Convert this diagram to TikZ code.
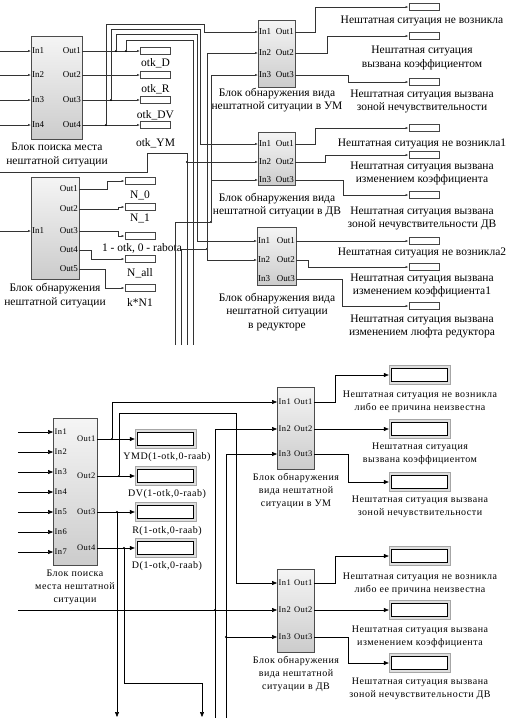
\documentclass[tikz,border=0pt]{standalone}
\usepackage{fontspec}
\setmainfont{Liberation Serif}
\newfontfamily\spacedfont[LetterSpace=5]{Liberation Serif}
\usetikzlibrary{arrows.meta,positioning}

\tikzset{
  blk/.style={draw=gray!60!black, top color=gray!8, bottom color=gray!40, inner sep=0pt},
  dsp/.style={draw=gray!55!black, line width=1pt, fill=white, minimum width=30pt, minimum height=7pt, inner sep=0pt},
  bdsp/.style={draw=gray!70, fill=gray!25, minimum width=61pt, minimum height=19pt, inner sep=0pt,
    path picture={\draw[black, fill=white] ([shift={(2.5pt,-2.5pt)}]path picture bounding box.north west)
      rectangle ([shift={(-3pt,3pt)}]path picture bounding box.south east);}},
  lbl/.style={font=\fontsize{11.5}{13.5}\selectfont, align=center, inner sep=0pt},
  blbl/.style={font=\spacedfont\fontsize{10}{13}\selectfont, align=center, inner sep=0pt},
  prt/.style={font=\fontsize{9}{10}\selectfont, inner sep=1pt},
  bprt/.style={font=\spacedfont\fontsize{8.5}{10}\selectfont, inner sep=1.5pt},
  wire/.style={draw=gray!40!black, line width=0.5pt},
  bwire/.style={draw=black, line width=0.6pt},
  arr/.style={-{Latex[length=3pt,width=2.2pt]}},
  barr/.style={-{Triangle[length=5pt,width=4pt]}},
  jn/.style={circle, fill=black, inner sep=0pt, minimum size=2.2pt}
}

\begin{document}
\begin{tikzpicture}[x=1pt,y=-1pt]
\useasboundingbox (0,0) rectangle (512,718);

% ---------- upper model ----------
\node[blk, minimum width=51pt, minimum height=103pt] (b1) at (56.5,87.5) {};
\foreach \i/\y in {1/51,2/75,3/100,4/125}{
  \coordinate (b1i\i) at (31,\y);
  \coordinate (b1o\i) at (82,\y);
  \coordinate (s\i) at (0,\y);
  \node[prt, anchor=west] (b1n\i) at (b1i\i) {In\i};
  \node[prt, anchor=east] (b1m\i) at (b1o\i) {Out\i};
  \draw[wire, arr] (s\i) -- (b1i\i);
}
\node[lbl] (t0) at (57,155) {Блок поиска места\\нештатной ситуации};

\node[dsp] (d1) at (155.5,51) {};
\node[dsp] (d2) at (155.5,75) {};
\node[dsp] (d3) at (155.5,100) {};
\node[dsp] (d4) at (155.5,125) {};
\node[lbl] (t1) at (155.5,63) {otk\_D};
\node[lbl] (t2) at (155.5,89) {otk\_R};
\node[lbl] (t3) at (155.5,115) {otk\_DV};
\node[lbl] (t4) at (155.5,143) {otk\_YM};
\foreach \i in {1,...,4} \draw[wire, arr] (b1o\i) -- (d\i);

\node[blk, minimum width=48pt, minimum height=102pt] (b2) at (55,228) {};
\coordinate (b2i) at (31,231);
\coordinate (s5) at (0,231);
\node[prt, anchor=west] (b2n) at (b2i) {In1};
\draw[wire, arr] (s5) -- (b2i);
\foreach \i/\y in {1/189,2/209,3/231,4/250,5/269}{
  \coordinate (b2o\i) at (79,\y);
  \node[prt, anchor=east] (b2m\i) at (b2o\i) {Out\i};
}
\node[lbl] (t5) at (55,295.5) {Блок обнаружения\\нештатной ситуации};

\node[dsp] (n1) at (140,181) {};
\node[dsp] (n2) at (140,207) {};
\node[dsp] (n3) at (140,236) {};
\node[dsp] (n4) at (140,259) {};
\node[dsp] (n5) at (140,288) {};
\node[lbl] (t6) at (140,195) {N\_0};
\node[lbl] (t7) at (140,218) {N\_1};
\node[lbl] (t8) at (142,248) {1 - otk, 0 - rabota};
\node[lbl] (t9) at (140,273) {N\_all};
\node[lbl] (t10) at (140,303) {k*N1};
\draw[wire, arr] (b2o1) -- ++(28,0) |- (n1);
\draw[wire, arr] (b2o2) -- ++(39,0) |- (n2);
\draw[wire, arr] (b2o3) -- ++(39,0) |- (n3);
\draw[wire, arr] (b2o4) -- ++(12,0) |- (n4);
\draw[wire, arr] (b2o5) -- ++(26,0) |- (n5);

% detection blocks
\node[blk, minimum width=37pt, minimum height=67pt] (bu) at (276.5,53.5) {};
\node[blk, minimum width=37pt, minimum height=53pt] (bd) at (276.5,158.5) {};
\node[blk, minimum width=39pt, minimum height=58pt] (br) at (276.5,256) {};
\foreach \i/\y in {1/32,2/53,3/75}{
  \coordinate (ui\i) at (258,\y); \coordinate (uo\i) at (295,\y);
  \node[prt, anchor=west] (un\i) at (ui\i) {In\i};
  \node[prt, anchor=east] (um\i) at (uo\i) {Out\i};
}
\foreach \i/\y in {1/144,2/162,3/180}{
  \coordinate (di\i) at (258,\y); \coordinate (do\i) at (295,\y);
  \node[prt, anchor=west] (dn\i) at (di\i) {In\i};
  \node[prt, anchor=east] (dm\i) at (do\i) {Out\i};
}
\foreach \i/\y in {1/241,2/260,3/279}{
  \coordinate (ri\i) at (257,\y); \coordinate (ro\i) at (296,\y);
  \node[prt, anchor=west] (rn\i) at (ri\i) {In\i};
  \node[prt, anchor=east] (rm\i) at (ro\i) {Out\i};
}
\node[lbl] (t20) at (277,100) {Блок обнаружения вида\\нештатной ситуации в УМ};
\node[lbl] (t21) at (277,205) {Блок обнаружения вида\\нештатной ситуации в ДВ};
\node[lbl] (t22) at (277,312) {Блок обнаружения вида\\нештатной ситуации\\в редукторе};

\node[dsp] (r1) at (424,7) {};
\node[dsp] (r2) at (424,36) {};
\node[dsp] (r3) at (424,82) {};
\node[dsp] (r4) at (424,128) {};
\node[dsp] (r5) at (424,155) {};
\node[dsp] (r6) at (424,195) {};
\node[dsp] (r7) at (424,241) {};
\node[dsp] (r8) at (424,267) {};
\node[dsp] (r9) at (424,306) {};
\node[lbl] (t11) at (422,21) {Нештатная ситуация не возникла};
\node[lbl] (t12) at (422,58) {Нештатная ситуация\\вызвана коэффициентом};
\node[lbl] (t13) at (422,101.5) {Нештатная ситуация вызвана\\зоной нечувствительности};
\node[lbl] (t14) at (422,144) {Нештатная ситуация не возникла1};
\node[lbl] (t15) at (422,173.5) {Нештатная ситуация вызвана\\изменением коэффициента};
\node[lbl] (t16) at (422,218.5) {Нештатная ситуация вызвана\\зоной нечувствительности ДВ};
\node[lbl] (t17) at (422,253) {Нештатная ситуация не возникла2};
\node[lbl] (t18) at (422,285.5) {Нештатная ситуация вызвана\\изменением коэффициента1};
\node[lbl] (t19) at (422,326.5) {Нештатная ситуация вызвана\\изменением люфта редуктора};

\draw[wire, arr] (uo1) -- ++(20,0) |- (r1);
\draw[wire, arr] (uo2) -- ++(32,0) |- (r2);
\draw[wire, arr] (uo3) -- ++(53,0) |- (r3);
\draw[wire, arr] (do1) -- ++(20,0) |- (r4);
\draw[wire, arr] (do2) -- ++(30,0) |- (r5);
\draw[wire, arr] (do3) -- ++(48,0) |- (r6);
\draw[wire, arr] (ro1) -- (r7);
\draw[wire, arr] (ro2) -- ++(12,0) |- (r8);
\draw[wire, arr] (ro3) -- ++(46,0) |- (r9);

% wire bundle
\coordinate (e1) at (175,345);
\coordinate (e2) at (181,345);
\coordinate (e3) at (187,345);
\coordinate (e4) at (193,345);
\coordinate (s6) at (0,172);
\node[jn] (j1) at (106,125) {};
\node[jn] (j2) at (111,100) {};
\node[jn] (j3) at (116,51) {};
\node[jn] (j4) at (126,51) {};
\node[jn] (j5) at (187,162) {};
\node[jn] (j6) at (207,249) {};
\node[jn] (j7) at (211,222) {};
\draw[wire, arr] (j1) |- (204,24) |- (ui1);
\draw[wire, arr] (j2) |- (200,29) |- (di1);
\draw[wire, arr] (j3) |- (197,34) |- (ri1);
\draw[wire] (j4) |- (193,40) -- (e4);
\draw[wire] (s6) -| (147,153) -| (e3);
\draw[wire, arr] (j5) -- (di2);
\draw[wire] (e2) |- (j6);
\draw[wire, arr] (j6) |- (ui2);
\draw[wire, arr] (j6) |- (ri2);
\draw[wire] (e1) |- (j7);
\draw[wire, arr] (j7) |- (ui3);
\draw[wire, arr] (j7) |- (di3);

% ---------- lower model ----------
\node[blk, minimum width=44pt, minimum height=147pt] (b3) at (75,491.5) {};
\foreach \i/\y in {1/432,2/452,3/472,4/492,5/512,6/532,7/552}{
  \coordinate (b3i\i) at (53,\y);
  \coordinate (q\i) at (18,\y);
  \node[bprt, anchor=west] (b3n\i) at (b3i\i) {In\i};
  \draw[bwire, barr] (q\i) -- (b3i\i);
}
\foreach \i/\y in {1/439,2/476,3/512,4/548}{
  \coordinate (b3o\i) at (97,\y);
  \node[bprt, anchor=east] (b3m\i) at (b3o\i) {Out\i};
}
\node[blbl] (t30) at (75,587) {Блок поиска\\места нештатной\\ситуации};

\node[bdsp] (g1) at (165.5,439) {};
\node[bdsp] (g2) at (165.5,476) {};
\node[bdsp] (g3) at (165.5,512) {};
\node[bdsp] (g4) at (165.5,548) {};
\node[blbl] (t31) at (167,457) {YMD(1-otk,0-raab)};
\node[blbl] (t32) at (167,494) {DV(1-otk,0-raab)};
\node[blbl] (t33) at (167,531) {R(1-otk,0-raab)};
\node[blbl] (t34) at (167,566) {D(1-otk,0-raab)};
\foreach \i in {1,...,4} \draw[bwire, barr] (b3o\i) -- (g\i);

\node[blk, minimum width=37pt, minimum height=82pt] (bv) at (295.5,428) {};
\node[blk, minimum width=37pt, minimum height=83pt] (bw) at (295.5,610.5) {};
\foreach \i/\y in {1/402,2/429,3/454}{
  \coordinate (vi\i) at (277,\y); \coordinate (vo\i) at (314,\y);
  \node[bprt, anchor=west] (vn\i) at (vi\i) {In\i};
  \node[bprt, anchor=east] (vm\i) at (vo\i) {Out\i};
}
\foreach \i/\y in {1/583,2/610,3/637}{
  \coordinate (wi\i) at (277,\y); \coordinate (wo\i) at (314,\y);
  \node[bprt, anchor=west] (wn\i) at (wi\i) {In\i};
  \node[bprt, anchor=east] (wm\i) at (wo\i) {Out\i};
}
\node[blbl] (t35) at (296,491) {Блок обнаружения\\вида нештатной\\ситуации в УМ};
\node[blbl] (t36) at (296,674) {Блок обнаружения\\вида нештатной\\ситуации в ДВ};

\node[bdsp] (h1) at (419.5,375) {};
\node[bdsp] (h2) at (419.5,429) {};
\node[bdsp] (h3) at (419.5,482) {};
\node[bdsp] (h4) at (419.5,556) {};
\node[bdsp] (h5) at (419.5,610) {};
\node[bdsp] (h6) at (419.5,663) {};
\node[blbl] (t37) at (420,401.5) {Нештатная ситуация не возникла\\либо ее причина неизвестна};
\node[blbl] (t38) at (420,454) {Нештатная ситуация\\вызвана коэффициентом};
\node[blbl] (t39) at (420,506.5) {Нештатная ситуация вызвана\\зоной нечувствительности};
\node[blbl] (t40) at (420,583.5) {Нештатная ситуация не возникла\\либо ее причина неизвестна};
\node[blbl] (t41) at (420,636.5) {Нештатная ситуация вызвана\\изменением коэффициента};
\node[blbl] (t42) at (420,688.5) {Нештатная ситуация вызвана\\зоной нечувствительности ДВ};

\draw[bwire, barr] (vo1) -- ++(21,0) |- (h1);
\draw[bwire, barr] (vo2) -- (h2);
\draw[bwire, barr] (vo3) -- ++(34,0) |- (h3);
\draw[bwire, barr] (wo1) -- ++(21,0) |- (h4);
\draw[bwire, barr] (wo2) -- (h5);
\draw[bwire, barr] (wo3) -- ++(34,0) |- (h6);

% lower wiring
\coordinate (f1) at (117,717);
\coordinate (f2) at (202,717);
\coordinate (f3) at (215,718);
\coordinate (f4) at (226,718);
\coordinate (f5) at (18,610);
\node[jn] (m1) at (112,439) {};
\node[jn] (m2) at (119,476) {};
\node[jn] (m3) at (117,512) {};
\node[jn] (m4) at (124,548) {};
\node[jn] (m5) at (215,610) {};
\node[jn] (m6) at (226,637) {};
\draw[bwire, barr] (m1) |- (vi1);
\draw[bwire, barr] (m2) |- (236,413) |- (wi1);
\draw[bwire, barr] (m3) -- (f1);
\draw[bwire, barr] (m4) |- (202,683) -- (f2);
\draw[bwire, barr] (f3) |- (vi2);
\draw[bwire, barr] (f4) |- (vi3);
\draw[bwire, barr] (f5) -- (wi2);
\draw[bwire, barr] (m6) -- (wi3);
\end{tikzpicture}
\end{document}
